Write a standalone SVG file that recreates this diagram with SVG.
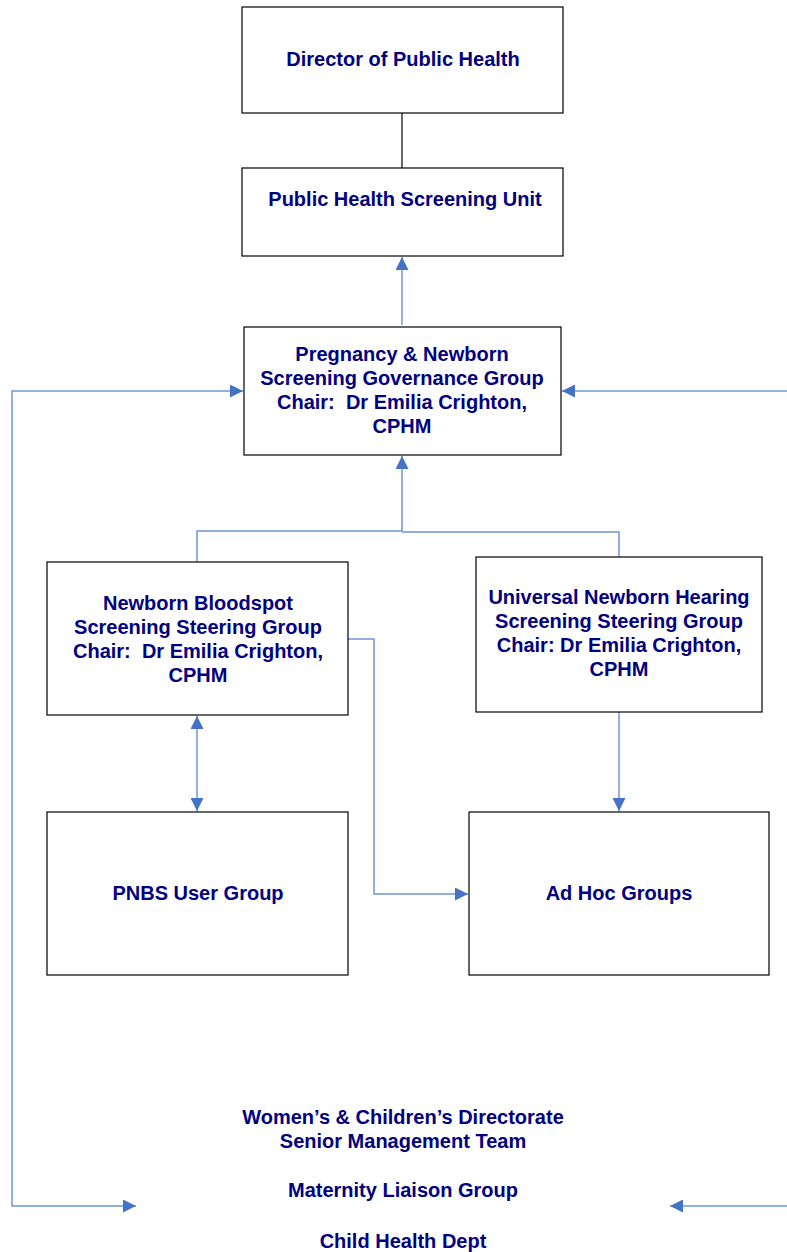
<svg xmlns="http://www.w3.org/2000/svg" width="787" height="1252" viewBox="0 0 787 1252">
<style>
.box{fill:#fff;stroke:#000;stroke-width:1.2}
.t{font-family:"Liberation Sans",Arial,sans-serif;font-weight:bold;font-size:20px;fill:#000080;text-anchor:middle;white-space:pre}
.c{fill:none;stroke:#6f97d0;stroke-width:1.5}
</style>
<defs>
<marker id="ar" viewBox="0 0 10 10" refX="10" refY="5" markerWidth="13" markerHeight="13" markerUnits="userSpaceOnUse" orient="auto-start-reverse">
<path d="M0,0 L10,5 L0,10 Z" fill="#4472c4"/>
</marker>
</defs>
<rect width="787" height="1252" fill="#fff"/>
<g id="connectors">
<line x1="402" y1="113" x2="402" y2="168" stroke="#000" stroke-width="1.2"/>
<line class="c" x1="402" y1="325" x2="402" y2="257" marker-end="url(#ar)"/>
<polyline class="c" points="197,562 197,531 402,531 402,456" marker-end="url(#ar)"/>
<polyline class="c" points="619,557 619,532 402,532"/>
<line class="c" x1="197" y1="716" x2="197" y2="811" marker-start="url(#ar)" marker-end="url(#ar)"/>
<line class="c" x1="619" y1="712" x2="619" y2="811" marker-end="url(#ar)"/>
<polyline class="c" points="348,639 374,639 374,894 468,894" marker-end="url(#ar)"/>
<polyline class="c" points="136,1206 12,1206 12,391 243,391" marker-start="url(#ar)" marker-end="url(#ar)"/>
<line class="c" x1="787" y1="391" x2="562" y2="391" marker-end="url(#ar)"/>
<line class="c" x1="787" y1="1206" x2="670" y2="1206" marker-end="url(#ar)"/>
</g>
<g id="director">
<rect class="box" x="242" y="7" width="321" height="106"/>
<text class="t" x="403" y="66">Director of Public Health</text>
</g>
<g id="phsu">
<rect class="box" x="242" y="168" width="321" height="88"/>
<text class="t" x="405" y="206">Public Health Screening Unit</text>
</g>
<g id="governance">
<rect class="box" x="244" y="327" width="317" height="128"/>
<text class="t" x="402" y="361">Pregnancy &amp; Newborn</text>
<text class="t" x="402" y="385">Screening Governance Group</text>
<text class="t" x="402" y="409">Chair:  Dr Emilia Crighton,</text>
<text class="t" x="402" y="433">CPHM</text>
</g>
<g id="nbs">
<rect class="box" x="47" y="562" width="301" height="153"/>
<text class="t" x="198" y="610">Newborn Bloodspot</text>
<text class="t" x="198" y="634">Screening Steering Group</text>
<text class="t" x="198" y="658">Chair:  Dr Emilia Crighton,</text>
<text class="t" x="198" y="682">CPHM</text>
</g>
<g id="unhs">
<rect class="box" x="476" y="557" width="286" height="155"/>
<text class="t" x="619" y="604">Universal Newborn Hearing</text>
<text class="t" x="619" y="628">Screening Steering Group</text>
<text class="t" x="619" y="652">Chair: Dr Emilia Crighton,</text>
<text class="t" x="619" y="676">CPHM</text>
</g>
<g id="pnbs">
<rect class="box" x="47" y="812" width="301" height="163"/>
<text class="t" x="198" y="900">PNBS User Group</text>
</g>
<g id="adhoc">
<rect class="box" x="469" y="812" width="300" height="163"/>
<text class="t" x="619" y="900">Ad Hoc Groups</text>
</g>
<g id="bottom">
<text class="t" x="403" y="1124">Women’s &amp; Children’s Directorate</text>
<text class="t" x="403" y="1148">Senior Management Team</text>
<text class="t" x="403" y="1197">Maternity Liaison Group</text>
<text class="t" x="403" y="1248">Child Health Dept</text>
</g>
</svg>
